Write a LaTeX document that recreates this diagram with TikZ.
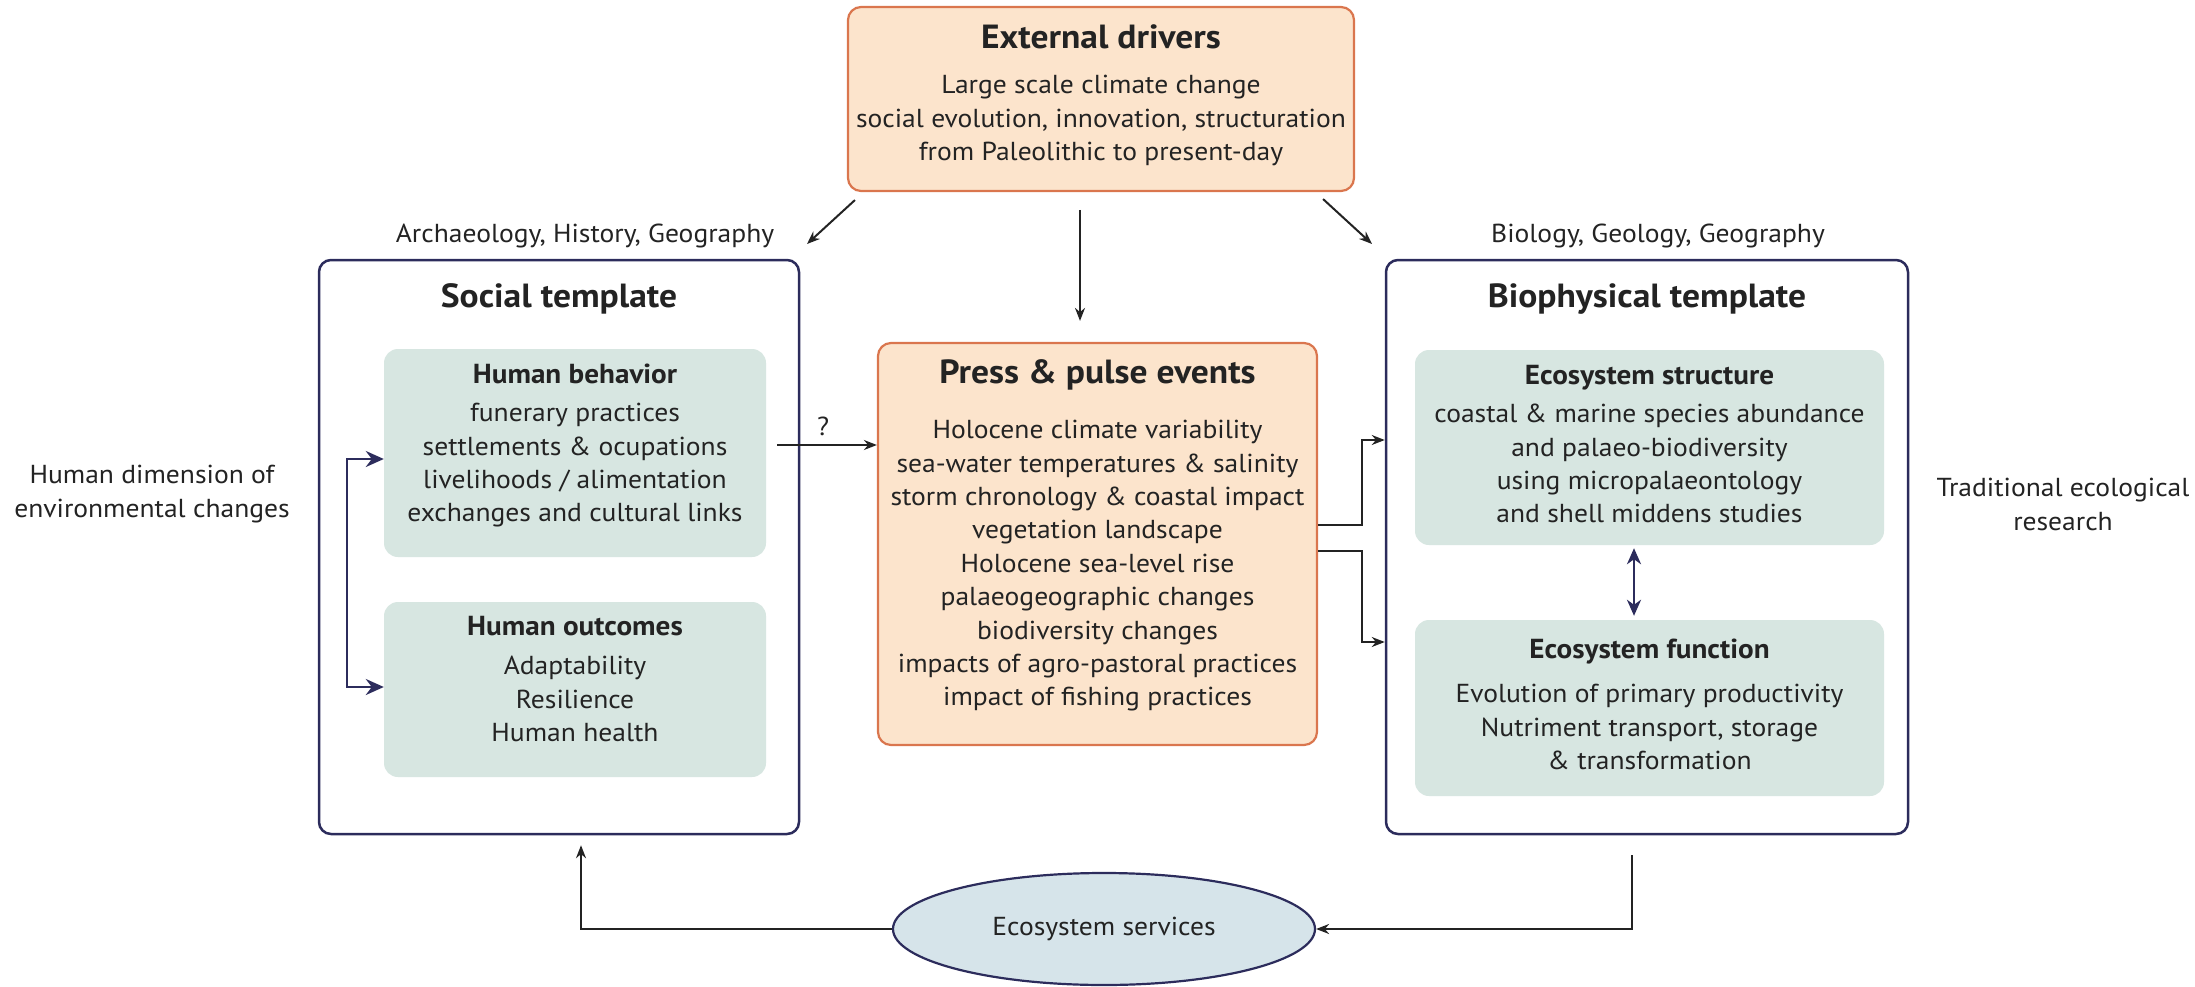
\documentclass[tikz,border=0pt]{standalone}
\usepackage{fontspec}
\setmainfont[FakeStretch=1.06]{PT Sans}
\usetikzlibrary{arrows.meta,shapes.geometric}
\definecolor{peachfill}{RGB}{252,228,204}
\definecolor{peachline}{RGB}{218,118,78}
\definecolor{greenfill}{RGB}{215,230,225}
\definecolor{navy}{RGB}{44,44,92}
\definecolor{ellfill}{RGB}{214,228,234}
\definecolor{ink}{RGB}{35,35,35}
\newcommand{\bodyf}{\fontsize{26}{33.4}\selectfont}
\newcommand{\titlef}{\fontsize{33.5}{38}\selectfont\bfseries}
\newcommand{\subf}{\fontsize{27.5}{32}\selectfont\bfseries}
\begin{document}
\begin{tikzpicture}[x=1pt,y=-1pt,
 every node/.style={text=ink},
 peachbox/.style={draw=peachline, fill=peachfill, line width=2.2pt, rounded corners=13pt, inner sep=0pt},
 outerbox/.style={draw=navy, fill=white, line width=2.5pt, rounded corners=12pt, inner sep=0pt},
 greenbox/.style={fill=greenfill, rounded corners=14pt, inner sep=0pt},
 body/.style={align=center, inner sep=0pt, font=\bodyf, anchor=north, execute at begin node={\rule{0pt}{20pt}}},
 ttl/.style={inner sep=0pt, font=\titlef, anchor=base},
 sub/.style={inner sep=0pt, font=\subf, anchor=base},
 lbl/.style={inner sep=0pt, font=\bodyf, anchor=base},
 arr/.style={draw=ink, line width=2pt, -{Stealth[length=13pt,width=10pt]}},
 looparr/.style={draw=navy, line width=2.5pt, {Stealth[length=18pt,width=16pt,inset=6pt]}-{Stealth[length=18pt,width=16pt,inset=6pt]}}
]
\useasboundingbox (0,0) rectangle (2195,987);

% boxes
\node[peachbox, minimum width=506pt, minimum height=184pt] (ext) at (1101,99) {};
\node[outerbox, minimum width=480pt, minimum height=574pt] (soc) at (559,547) {};
\node[outerbox, minimum width=522pt, minimum height=574pt] (bio) at (1647,547) {};
\node[peachbox, minimum width=439pt, minimum height=402pt] (press) at (1097.5,544) {};
\node[greenbox, minimum width=382pt, minimum height=208pt] (hb) at (575,453) {};
\node[greenbox, minimum width=382pt, minimum height=175pt] (ho) at (575,689.5) {};
\node[greenbox, minimum width=469pt, minimum height=195pt] (es) at (1649.5,447.5) {};
\node[greenbox, minimum width=469pt, minimum height=176pt] (ef) at (1649.5,708) {};
\node[ellipse, draw=navy, fill=ellfill, line width=2.2pt, minimum width=422pt, minimum height=112pt, inner sep=0pt, font=\bodyf] (serv) at (1104,929) {Ecosystem services};

% texts
\node[ttl] (extT) at (1101,49) {External drivers};
\node[body] (extB) at (1101,75) {Large scale climate change\\social evolution, innovation, structuration\\from Paleolithic to present-day};
\node[lbl] (archL) at (585,242) {Archaeology, History, Geography};
\node[lbl] (bioL) at (1658,242) {Biology, Geology, Geography};
\node[ttl] (socT) at (559,307) {Social template};
\node[ttl] (bioT) at (1647,307) {Biophysical template};
\node[sub] (hbT) at (575,383) {Human behavior};
\node[body] (hbB) at (575,403) {funerary practices\\settlements \& ocupations\\livelihoods / alimentation\\exchanges and cultural links};
\node[sub] (hoT) at (575,635.5) {Human outcomes};
\node[body] (hoB) at (575,656) {Adaptability\\Resilience\\Human health};
\node[ttl] (prT) at (1097.5,383) {Press \& pulse events};
\node[body] (prB) at (1097.5,420) {Holocene climate variability\\sea-water temperatures \& salinity\\storm chronology \& coastal impact\\vegetation landscape\\Holocene sea-level rise\\palaeogeographic changes\\biodiversity changes\\impacts of agro-pastoral practices\\impact of fishing practices};
\node[sub] (esT) at (1649.5,384.5) {Ecosystem structure};
\node[body] (esB) at (1649.5,404) {coastal \& marine species abundance\\and palaeo-biodiversity\\using micropalaeontology\\and shell middens studies};
\node[sub] (efT) at (1649.5,658.5) {Ecosystem function};
\node[body] (efB) at (1649.5,684) {Evolution of primary productivity\\Nutriment transport, storage\\\& transformation};
\node[body] (hdim) at (152,465) {Human dimension of\\environmental changes};
\node[body] (trad) at (2063,478) {Traditional ecological\\research};
\node[lbl] (qm) at (823,435) {?};

% connectors
\coordinate (dl) at (807,244);
\coordinate (dr) at (1372,244);
\coordinate (mtop) at (1080,210);
\coordinate (qs) at (777,445);
\draw[arr] ([xshift=8pt,yshift=-8pt]ext.south west) -- (dl);
\draw[arr] ([xshift=-32pt,yshift=-7pt]ext.south east) -- (dr);
\draw[arr, shorten >=21pt] (mtop) -- (mtop |- press.north);
\draw[arr] (qs) -- (qs -| press.west);
\draw[arr] ([yshift=19pt]press.east) -- ++(44,0) |- ([yshift=107pt]bio.west);
\draw[arr] ([yshift=-7pt]press.east) -- ++(44,0) |- ([yshift=-95pt]bio.west);
\draw[looparr] ([yshift=-6pt]hb.west) -- ++(-37,0) |- ([yshift=2.5pt]ho.west);
\draw[draw=navy, line width=2.5pt, {Stealth[length=16pt,width=14pt,inset=5pt]}-{Stealth[length=16pt,width=14pt,inset=5pt]}, shorten <=3pt, shorten >=4pt] ([xshift=-15.5pt]es.south) -- ([xshift=-15.5pt]ef.north);
\draw[arr, shorten >=10pt] (serv.west) -| ([xshift=22pt]soc.south);
\draw[arr] ([xshift=-15pt,yshift=-20pt]bio.south) |- (serv.east);
\end{tikzpicture}
\end{document}
